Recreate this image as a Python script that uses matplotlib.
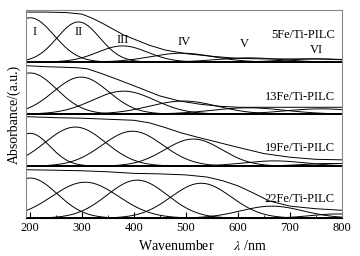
import numpy as np
import matplotlib
matplotlib.use("Agg")
import matplotlib.pyplot as plt
from matplotlib.ticker import MultipleLocator

plt.rcParams['font.family'] = ['Liberation Serif', 'DejaVu Serif']
plt.rcParams['mathtext.fontset'] = 'stix'

samples = ['5Fe/Ti-PILC', '13Fe/Ti-PILC', '19Fe/Ti-PILC', '22Fe/Ti-PILC']
offsets = [3, 2, 1, 0]
label_y = [0.51, 0.33, 0.34, 0.36]

# gaussian bands I..VI: centre (nm), height, width (nm)
centres = [
    [200, 293, 378, 492, 620, 750],
    [200, 298, 380, 495, 620, 760],
    [200, 287, 397, 514, 670, 780],
    [200, 306, 406, 529, 665, 790],
]
heights = [
    [0.85, 0.77, 0.31, 0.17, 0.08, 0.06],
    [0.79, 0.71, 0.44, 0.25, 0.12, 0.10],
    [0.63, 0.75, 0.67, 0.52, 0.10, 0.05],
    [0.77, 0.69, 0.73, 0.67, 0.23, 0.08],
]
widths = [
    [46, 41, 48, 60, 60, 60],
    [51, 53, 60, 65, 70, 70],
    [38, 58, 58, 55, 60, 55],
    [52, 64, 58, 58, 60, 50],
]

env_wl = [
    [192, 230, 270, 300, 320, 340, 360, 380, 400, 430, 460, 500, 550, 600, 650, 700, 750, 800],
    [192, 230, 263, 290, 310, 340, 372, 411, 449, 488, 526, 564, 602, 650, 700, 750, 800],
    [192, 250, 300, 350, 400, 430, 460, 490, 520, 560, 600, 650, 700, 750, 800],
    [192, 250, 300, 350, 400, 450, 500, 540, 570, 600, 630, 660, 700, 750, 800],
]
env_val = [
    [0.96, 0.96, 0.95, 0.92, 0.84, 0.74, 0.63, 0.52, 0.44, 0.32, 0.23, 0.16, 0.11, 0.07, 0.06, 0.06, 0.06, 0.05],
    [0.93, 0.91, 0.90, 0.89, 0.87, 0.77, 0.65, 0.50, 0.35, 0.25, 0.19, 0.15, 0.13, 0.13, 0.13, 0.13, 0.13],
    [0.95, 0.93, 0.92, 0.90, 0.88, 0.83, 0.74, 0.64, 0.56, 0.46, 0.36, 0.24, 0.17, 0.13, 0.12],
    [0.93, 0.92, 0.91, 0.89, 0.86, 0.85, 0.83, 0.79, 0.72, 0.62, 0.48, 0.33, 0.23, 0.18, 0.15],
]

roman = ['I', 'II', 'III', 'IV', 'V', 'VI']
roman_x = [209, 293, 378, 497, 612, 750]
roman_y = [3.57, 3.57, 3.43, 3.38, 3.34, 3.23]

fig = plt.figure(figsize=(3.6, 2.56), dpi=100)
ax = fig.add_axes([0.072, 0.148, 0.878, 0.813])

wl = np.linspace(192, 800, 600)
for i in range(4):
    off = offsets[i]
    for c, h, w in zip(centres[i], heights[i], widths[i]):
        g = h * np.exp(-(wl - c) ** 2 / (2 * w ** 2))
        ax.plot(wl, g + off, color='black', lw=0.7)
    ax.plot(env_wl[i], np.array(env_val[i]) + off, color='black', lw=0.7)
    ax.axhline(off, color='black', lw=1.3)
    ax.text(786, off + label_y[i], samples[i], ha='right', va='center', fontsize=9)

for lab, x, y in zip(roman, roman_x, roman_y):
    ax.text(x, y, lab, ha='center', va='center', fontsize=9)

ax.set_xlim(192, 800)
ax.set_ylim(0, 4)
ax.set_yticks([])
ax.xaxis.set_major_locator(MultipleLocator(100))
ax.xaxis.set_minor_locator(MultipleLocator(50))
ax.tick_params(axis='x', which='major', direction='in', length=4, labelsize=9, pad=3)
ax.tick_params(axis='x', which='minor', direction='in', length=2)
for s in ax.spines.values():
    s.set_color('#888888')
    s.set_linewidth(0.8)
ax.spines['bottom'].set_color('black')

ax.set_xlabel(r'Wavenumber      $\lambda$ /nm', fontsize=10)
ax.xaxis.set_label_coords(0.557, -0.1)
ax.set_ylabel('Absorbance/(a.u.)', fontsize=10, labelpad=4)

fig.savefig('out.png', dpi=100)
